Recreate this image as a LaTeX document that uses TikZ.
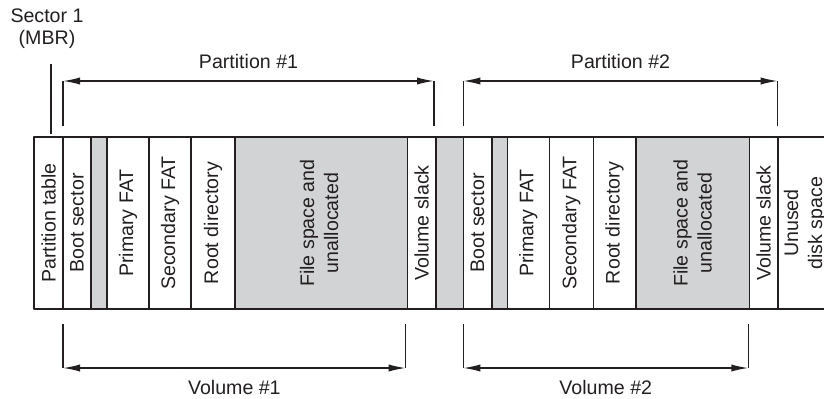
\documentclass[tikz,border=0pt]{standalone}
\usepackage{fontspec}
\setmainfont{Liberation Sans}
\usetikzlibrary{arrows.meta}
\newcommand{\Unit}{0.5pt}
\newcommand{\Edge}{0.8pt}
\newcommand{\Top}{137}
\newcommand{\Bot}{309}
\newcommand{\Mid}{223}
\definecolor{slack}{HTML}{D1D3D4}
\definecolor{ink}{HTML}{231F20}

\begin{document}
\begin{tikzpicture}[x=\Unit,y=-\Unit, line join=round, text=ink,
    font=\fontsize{9.8}{12}\selectfont,
    celltext/.style={rotate=90, align=center, inner sep=0pt},
    guide/.style={ink, line width=0.7pt},
    dimarrow/.style={ink, line width=0.7pt,
      {Latex[length=8.5pt,width=3.6pt]}-{Latex[length=8.5pt,width=3.6pt]}}]
  \useasboundingbox (0,0) rectangle (824,398);

  % ---- the disk strip -----------------------------------------------------
  % Grey cells first, then the outline and the walls on top of them.
  \foreach \l/\r in {91/107, 235/407.3, 435.7/463.3, 491.7/507.3, 635.7/749.3} {
    \fill[slack] (\l,\Top) rectangle (\r,\Bot);
  }
  \draw[ink,line width=\Edge] (824,\Top) -- (34,\Top) -- (34,\Bot) -- (824,\Bot);
  \foreach \x in {63, 91, 107, 149, 191, 235, 407.3, 435.7, 463.3, 491.7,
                  507.3, 549.3, 593.3, 635.7, 749.3, 777.7} {
    \draw[ink,line width=\Edge] (\x,\Top) -- (\x,\Bot);
  }

  % ---- cell labels --------------------------------------------------------
  \foreach \x/\n/\t in {48.5/ptab/Partition table, 77/boot1/Boot sector,
      128/pfat1/Primary FAT, 170/sfat1/Secondary FAT, 213/root1/Root directory,
      319/files1/{File space and\\unallocated}, 421.5/slack1/Volume slack,
      477.5/boot2/Boot sector, 528.3/pfat2/Primary FAT,
      571.3/sfat2/Secondary FAT, 614.5/root2/Root directory,
      692.5/files2/{File space and\\unallocated}, 763.5/slack2/Volume slack,
      805/unused/{Unused\\disk space}} {
    \node[celltext] (\n) at (\x,\Mid) {\t};
  }

  % ---- sector 1 -----------------------------------------------------------
  \node[align=center, font=\fontsize{9.8}{11}\selectfont] (mbr) at (47,29) {Sector 1\\(MBR)};
  \coordinate (mbrT) at (51,64);
  \coordinate (mbrB) at (51,134);
  \draw[guide] (mbrT) -- (mbrB);

  % ---- partitions (above) -------------------------------------------------
  \coordinate (p1Lb) at (63,126);    \coordinate (p1Lt) at (63,81);
  \coordinate (p1Rb) at (434,126);   \coordinate (p1Rt) at (434,81);
  \coordinate (p2Lb) at (463.3,126); \coordinate (p2Lt) at (463.3,81);
  \coordinate (p2Rb) at (777.7,126); \coordinate (p2Rt) at (777.7,81);
  \draw[guide] (p1Lb) -- (p1Lt);
  \draw[guide] (p1Rb) -- (p1Rt);
  \draw[guide] (p2Lb) -- (p2Lt);
  \draw[guide] (p2Rb) -- (p2Rt);
  \draw[dimarrow] (p1Lt) -- node[midway, yshift=10pt] (part1) {Partition \#1} (p1Rt);
  \draw[dimarrow] (p2Lt) -- node[midway, yshift=10pt] (part2) {Partition \#2} (p2Rt);

  % ---- volumes (below) ----------------------------------------------------
  \coordinate (v1Lt) at (63,324);    \coordinate (v1Lb) at (63,368);
  \coordinate (v1Rt) at (405.7,324); \coordinate (v1Rb) at (405.7,368);
  \coordinate (v2Lt) at (463.3,324); \coordinate (v2Lb) at (463.3,368);
  \coordinate (v2Rt) at (748.3,324); \coordinate (v2Rb) at (748.3,368);
  \draw[guide] (v1Lt) -- (v1Lb);
  \draw[guide] (v1Rt) -- (v1Rb);
  \draw[guide] (v2Lt) -- (v2Lb);
  \draw[guide] (v2Rt) -- (v2Rb);
  \draw[dimarrow] (v1Lb) -- node[midway, yshift=-9.5pt] (vol1) {Volume \#1} (v1Rb);
  \draw[dimarrow] (v2Lb) -- node[midway, yshift=-9.5pt] (vol2) {Volume \#2} (v2Rb);

\end{tikzpicture}
\end{document}
